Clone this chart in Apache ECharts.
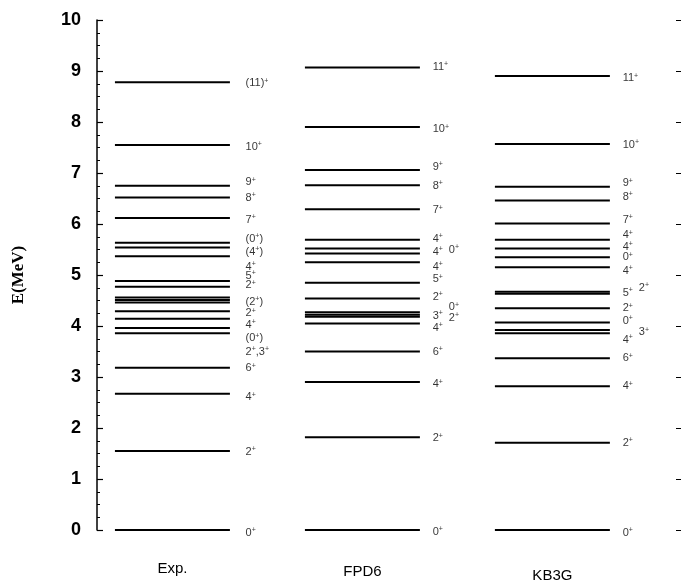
<!DOCTYPE html>
<html>
<head>
<meta charset="utf-8">
<script src="https://cdn.jsdelivr.net/npm/echarts@6/dist/echarts.min.js"></script>
<style>
html,body{margin:0;padding:0;background:#fff;}
#main{width:681px;height:585px;}
</style>
</head>
<body>
<div id="main"></div>
<script>
// Columns (spectra)
const columns = ['Exp.', 'FPD6', 'KB3G'];
const yTicks = [0, 1, 2, 3, 4, 5, 6, 7, 8, 9, 10];

// Level energies (MeV)
const expLevels = [0, 1.55, 2.67, 3.18, 3.86, 3.96, 4.14, 4.29, 4.46, 4.51, 4.56, 4.77, 4.88, 5.37, 5.54, 5.63, 6.12, 6.52, 6.75, 7.55, 8.78];
const fpd6Levels = [0, 1.82, 2.90, 3.50, 4.05, 4.18, 4.22, 4.27, 4.54, 4.85, 5.25, 5.42, 5.52, 5.69, 6.29, 6.76, 7.06, 7.90, 9.07];
const kb3gLevels = [0, 1.71, 2.82, 3.37, 3.86, 3.92, 4.07, 4.35, 4.63, 4.67, 5.15, 5.35, 5.52, 5.69, 6.01, 6.46, 6.73, 7.57, 8.90];

// Spin labels: [text, energy at which label sits]
const expLabels = [
  ['0+', -0.05], ['2+', 1.53], ['4+', 2.60], ['6+', 3.17], ['2+,3+', 3.50], ['(0+)', 3.76],
  ['4+', 4.03], ['2+', 4.25], ['(2+)', 4.48], ['2+', 4.80], ['5+', 4.99], ['4+', 5.16],
  ['(4+)', 5.46], ['(0+)', 5.71], ['7+', 6.08], ['8+', 6.51], ['9+', 6.82], ['10+', 7.51], ['(11)+', 8.76]
];
const fpd6Labels = [
  ['0+', -0.04], ['2+', 1.80], ['4+', 2.86], ['6+', 3.49], ['4+', 3.96], ['3+', 4.20],
  ['2+', 4.57], ['5+', 4.92], ['4+', 5.16], ['4+', 5.45], ['4+', 5.71], ['7+', 6.27],
  ['8+', 6.75], ['9+', 7.12], ['10+', 7.86], ['11+', 9.08]
];
const fpd6Labels2 = [['2+', 4.16], ['0+', 4.37], ['0+', 5.49]];
const kb3gLabels = [
  ['0+', -0.06], ['2+', 1.71], ['4+', 2.82], ['6+', 3.37], ['4+', 3.73], ['0+', 4.10],
  ['2+', 4.35], ['5+', 4.65], ['4+', 5.08], ['0+', 5.35], ['4+', 5.55], ['4+', 5.78],
  ['7+', 6.08], ['8+', 6.53], ['9+', 6.80], ['10+', 7.55], ['11+', 8.86]
];
const kb3gLabels2 = [['3+', 3.88], ['2+', 4.75]];

const allLevels = [expLevels, fpd6Levels, kb3gLevels];
const allLabels = [expLabels, fpd6Labels, kb3gLabels];
const allLabels2 = [[], fpd6Labels2, kb3gLabels2];

const HALF = 0.3026;            // half width of a level line (x units)
const LABEL_OFF = [0.385, 0.37, 0.37];
const LABEL2_EXTRA = 0.085;

function richText(s) {
  return s.split('+').map(p => p ? '{n|' + p + '}' : '').join('{s|+}');
}

const levelData = [];
allLevels.forEach((arr, c) => arr.forEach(e => levelData.push([c, e])));

const labelData = [];
allLabels.forEach((arr, c) => arr.forEach(l => labelData.push({ value: [c + LABEL_OFF[c], l[1]], txt: l[0] })));
allLabels2.forEach((arr, c) => arr.forEach(l => labelData.push({ value: [c + LABEL_OFF[c] + LABEL2_EXTRA, l[1]], txt: l[0] })));

const chart = echarts.init(document.getElementById('main'), null, { renderer: 'canvas' });
chart.setOption({
  animation: false,
  backgroundColor: '#fff',
  grid: { left: 97, right: 0, top: 20, bottom: 55, containLabel: false },
  xAxis: {
    type: 'value', min: -0.397, max: 2.677,
    axisLine: { show: false, onZero: false }, axisTick: { show: false }, splitLine: { show: false },
    axisLabel: {
      customValues: [0, 1, 2],
      margin: 31,
      formatter: v => {
        const i = Math.round(v);
        return '{c' + i + '|' + columns[i] + '}';
      },
      rich: {
        c0: { fontSize: 15, fontFamily: 'Arial, Liberation Sans', color: '#000', padding: [0, 0, 0, 0] },
        c1: { fontSize: 15, fontFamily: 'Arial, Liberation Sans', color: '#000', padding: [3, 0, 0, 0] },
        c2: { fontSize: 15, fontFamily: 'Arial, Liberation Sans', color: '#000', padding: [7, 0, 0, 0] }
      }
    }
  },
  yAxis: [{
    type: 'value', min: yTicks[0], max: yTicks[yTicks.length - 1], interval: 1,
    name: 'E(MeV)', nameLocation: 'middle', nameGap: 70,
    nameTextStyle: { fontFamily: 'Times New Roman, Liberation Serif', fontWeight: 'bold', fontSize: 17, color: '#000' },
    axisLine: { show: true, onZero: false, lineStyle: { color: '#000', width: 1.5 } },
    axisTick: { show: true, inside: true, length: 6, lineStyle: { color: '#000', width: 1.2 } },
    minorTick: { show: true, splitNumber: 4, length: 3, lineStyle: { color: '#000', width: 1 } },
    axisLabel: { margin: 16, fontFamily: 'Arial, Liberation Sans', fontWeight: 'bold', fontSize: 18, color: '#000' },
    splitLine: { show: false }
  }, {
    type: 'value', position: 'right', min: 0, max: 10, interval: 1,
    axisLine: { show: false, onZero: false },
    axisTick: { show: true, inside: true, length: 5, lineStyle: { color: '#000', width: 1 } },
    axisLabel: { show: false },
    splitLine: { show: false }
  }],
  series: [{
    type: 'custom',
    clip: false,
    data: levelData,
    renderItem: (params, api) => {
      const c = api.value(0), e = api.value(1);
      const p1 = api.coord([c - HALF, e]);
      const p2 = api.coord([c + HALF, e]);
      return {
        type: 'line',
        shape: { x1: p1[0], y1: p1[1], x2: p2[0], y2: p2[1] },
        style: { stroke: '#000', lineWidth: 2 }
      };
    }
  }, {
    type: 'scatter',
    clip: false,
    symbolSize: 0,
    silent: true,
    data: labelData,
    label: {
      show: true,
      position: 'right',
      distance: 0,
      formatter: p => richText(p.data.txt),
      rich: {
        n: { fontSize: 11, fontFamily: 'Arial, Liberation Sans', color: '#000', lineHeight: 12 },
        s: { fontSize: 7, fontFamily: 'Arial, Liberation Sans', color: '#000', lineHeight: 7, verticalAlign: 'top' }
      }
    }
  }]
});
</script>
</body>
</html>
